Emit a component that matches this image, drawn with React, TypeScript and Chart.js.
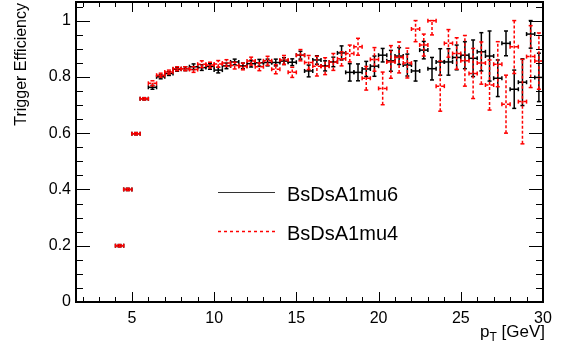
import React, { useEffect, useRef } from "react";
import { Chart, registerables } from "chart.js";
Chart.register(...registerables);

// pT bin centres [GeV], bins of 0.5 GeV
const ptCenters = [4.25, 4.75, 5.25, 5.75, 6.25, 6.75, 7.25, 7.75, 8.25, 8.75, 9.25, 9.75, 10.25, 10.75, 11.25, 11.75, 12.25, 12.75, 13.25, 13.75, 14.25, 14.75, 15.25, 15.75, 16.25, 16.75, 17.25, 17.75, 18.25, 18.75, 19.25, 19.75, 20.25, 20.75, 21.25, 21.75, 22.25, 22.75, 23.25, 23.75, 24.25, 24.75, 25.25, 25.75, 26.25, 26.75, 27.25, 27.75, 28.25, 28.75, 29.25, 29.75];
const binHalfWidth = 0.25;

// BsDsA1mu6 (black, solid)
const effMu6 = [0.200, 0.400, 0.598, 0.722, 0.763, 0.800, 0.812, 0.827, 0.829, 0.836, 0.833, 0.837, 0.824, 0.839, 0.853, 0.839, 0.847, 0.850, 0.851, 0.851, 0.856, 0.852, 0.877, 0.821, 0.860, 0.839, 0.853, 0.885, 0.816, 0.816, 0.828, 0.838, 0.877, 0.857, 0.874, 0.842, 0.821, 0.895, 0.829, 0.853, 0.853, 0.869, 0.877, 0.866, 0.889, 0.874, 0.795, 0.919, 0.756, 0.781, 0.952, 0.798];
const errMu6 = [0.004, 0.004, 0.004, 0.004, 0.007, 0.007, 0.007, 0.007, 0.007, 0.01, 0.01, 0.01, 0.01, 0.01, 0.01, 0.01, 0.012, 0.012, 0.012, 0.012, 0.012, 0.012, 0.014, 0.021, 0.015, 0.018, 0.017, 0.025, 0.031, 0.03, 0.027, 0.036, 0.024, 0.037, 0.03, 0.039, 0.036, 0.031, 0.04, 0.047, 0.047, 0.044, 0.048, 0.065, 0.068, 0.089, 0.065, 0.044, 0.068, 0.083, 0.05, 0.086];

// BsDsA1mu4 (red, dashed)
const effMu4 = [0.200, 0.400, 0.598, 0.722, 0.777, 0.806, 0.817, 0.829, 0.829, 0.826, 0.845, 0.842, 0.846, 0.849, 0.840, 0.837, 0.856, 0.836, 0.857, 0.827, 0.860, 0.816, 0.877, 0.851, 0.838, 0.838, 0.853, 0.864, 0.883, 0.907, 0.795, 0.862, 0.759, 0.853, 0.869, 0.849, 0.970, 0.913, 0.999, 0.767, 0.919, 0.883, 0.857, 0.812, 0.849, 0.771, 0.845, 0.703, 0.907, 0.712, 0.872, 0.856];
const errMu4 = [0.004, 0.004, 0.004, 0.004, 0.009, 0.007, 0.007, 0.007, 0.007, 0.01, 0.012, 0.01, 0.012, 0.012, 0.012, 0.012, 0.014, 0.014, 0.016, 0.016, 0.016, 0.018, 0.02, 0.025, 0.035, 0.03, 0.03, 0.025, 0.03, 0.03, 0.042, 0.042, 0.058, 0.058, 0.055, 0.053, 0.045, 0.039, 0.05, 0.089, 0.049, 0.056, 0.09, 0.089, 0.075, 0.089, 0.08, 0.103, 0.095, 0.15, 0.11, 0.1];

const seriesLabels = ["BsDsA1mu6", "BsDsA1mu4"];
const xMajorTicks = [5, 10, 15, 20, 25, 30];
const xMinorTicks = [2, 3, 4, 6, 7, 8, 9, 11, 12, 13, 14, 16, 17, 18, 19, 21, 22, 23, 24, 26, 27, 28, 29];
const yMajorTicks = [0, 0.2, 0.4, 0.6, 0.8, 1.0];
const yMinorTicks = [0.05, 0.1, 0.15, 0.25, 0.3, 0.35, 0.45, 0.5, 0.55, 0.65, 0.7, 0.75, 0.85, 0.9, 0.95, 1.05];
const xRange = [1.6, 30];
const yRange = [0, 1.066];

const FONT = "'Liberation Sans', Arial, sans-serif";

const errorBarPlugin = {
  id: "errorBars",
  afterDatasetsDraw(chart: any) {
    const { ctx, chartArea } = chart;
    const xs = chart.scales.x;
    const ys = chart.scales.y;
    ctx.save();
    ctx.beginPath();
    ctx.rect(chartArea.left, chartArea.top, chartArea.right - chartArea.left, chartArea.bottom - chartArea.top);
    ctx.clip();
    const seg = (x0: number, y0: number, x1: number, y1: number) => {
      ctx.beginPath();
      ctx.moveTo(x0, y0);
      ctx.lineTo(x1, y1);
      ctx.stroke();
    };
    chart.data.datasets.forEach((ds: any) => {
      ctx.strokeStyle = ds.borderColor;
      ctx.lineWidth = 1.5;
      const dash = ds.dashed ? [3, 2] : [];
      ctx.setLineDash(dash);
      ds.data.forEach((p: any) => {
        const px = xs.getPixelForValue(p.x);
        const py = ys.getPixelForValue(p.y);
        const xl = xs.getPixelForValue(p.x - p.xe);
        const xr = xs.getPixelForValue(p.x + p.xe);
        const yl = ys.getPixelForValue(Math.max(0, p.y - p.ye));
        const yh = ys.getPixelForValue(Math.min(1, p.y + p.ye));
        seg(xl, py, xr, py);
        seg(px, yl, px, yh);
        ctx.setLineDash([]);
        seg(xl, py - 2, xl, py + 2);
        seg(xr, py - 2, xr, py + 2);
        seg(px - 2, yl, px + 2, yl);
        seg(px - 2, yh, px + 2, yh);
        ctx.setLineDash(dash);
      });
    });
    ctx.restore();
  },
};

const framePlugin = {
  id: "rootFrame",
  afterDraw(chart: any) {
    const { ctx, chartArea } = chart;
    const xs = chart.scales.x;
    const ys = chart.scales.y;
    const L = chartArea.left, R = chartArea.right, T = chartArea.top, B = chartArea.bottom;
    ctx.save();
    ctx.strokeStyle = "#000";
    ctx.setLineDash([]);
    ctx.lineWidth = 1;
    const line = (x0: number, y0: number, x1: number, y1: number) => {
      ctx.beginPath();
      ctx.moveTo(x0, y0);
      ctx.lineTo(x1, y1);
      ctx.stroke();
    };
    xMajorTicks.forEach((v) => {
      const x = Math.round(xs.getPixelForValue(v)) + 0.5;
      line(x, B, x, B - 10);
      line(x, T, x, T + 10);
    });
    xMinorTicks.forEach((v) => {
      const x = Math.round(xs.getPixelForValue(v)) + 0.5;
      line(x, B, x, B - 5);
      line(x, T, x, T + 5);
    });
    yMajorTicks.forEach((v) => {
      const y = Math.round(ys.getPixelForValue(v)) + 0.5;
      line(L, y, L + 14, y);
      line(R, y, R - 14, y);
    });
    yMinorTicks.forEach((v) => {
      const y = Math.round(ys.getPixelForValue(v)) + 0.5;
      line(L, y, L + 7, y);
      line(R, y, R - 7, y);
    });
    // frame
    ctx.lineWidth = 2;
    ctx.strokeRect(L, T, R - L, B - T);

    // legend
    ctx.lineWidth = 1;
    ctx.strokeStyle = "#333333";
    line(218, 192.5, 275, 192.5);
    ctx.strokeStyle = "#ff0000";
    ctx.lineWidth = 1.5;
    ctx.setLineDash([3, 3]);
    line(218, 231.5, 275, 231.5);
    ctx.setLineDash([]);
    ctx.fillStyle = "#000";
    ctx.font = `20px ${FONT}`;
    ctx.textAlign = "left";
    ctx.textBaseline = "alphabetic";
    ctx.fillText(seriesLabels[0], 287, 201);
    ctx.fillText(seriesLabels[1], 287, 240);

    // x title: p_T [GeV]
    ctx.font = `17px ${FONT}`;
    const wp = ctx.measureText("p").width;
    const wr = ctx.measureText(" [GeV]").width;
    ctx.font = `12px ${FONT}`;
    const wt = ctx.measureText("T").width;
    const x0 = 545 - (wp + wt + wr);
    ctx.font = `17px ${FONT}`;
    ctx.fillText("p", x0, 337);
    ctx.font = `12px ${FONT}`;
    ctx.fillText("T", x0 + wp, 341);
    ctx.font = `17px ${FONT}`;
    ctx.fillText(" [GeV]", x0 + wp + wt, 337);

    // y title
    ctx.translate(26, 3);
    ctx.rotate(-Math.PI / 2);
    ctx.textAlign = "right";
    ctx.font = `16px ${FONT}`;
    ctx.fillText("Trigger Efficiency", 0, 0);
    ctx.restore();
  },
};

export default function App() {
  const ref = useRef<HTMLCanvasElement | null>(null);
  useEffect(() => {
    if (!ref.current) return;
    const mk = (eff: number[], err: number[]) =>
      ptCenters.map((x, i) => ({ x, y: eff[i], xe: binHalfWidth, ye: err[i] }));
    const chart = new Chart(ref.current, {
      type: "scatter",
      data: {
        datasets: [
          { label: seriesLabels[0], data: mk(effMu6, errMu6), borderColor: "#000000", backgroundColor: "#000000", pointRadius: 0, dashed: false } as any,
          { label: seriesLabels[1], data: mk(effMu4, errMu4), borderColor: "#ff0000", backgroundColor: "#ff0000", pointRadius: 0, dashed: true } as any,
        ],
      },
      options: {
        animation: false,
        responsive: false,
        devicePixelRatio: 1,
        layout: { padding: { top: 2, right: 18, left: 0, bottom: 0 } },
        plugins: { legend: { display: false }, tooltip: { enabled: false } },
        scales: {
          x: {
            type: "linear",
            min: xRange[0],
            max: xRange[1],
            grid: { display: false, drawTicks: false },
            border: { display: false },
            ticks: {
              stepSize: 5,
              includeBounds: false,
              padding: 7,
              color: "#000",
              font: { family: FONT, size: 16 },
              maxRotation: 0,
            },
            afterFit: (s: any) => {
              s.height = 47;
              s.paddingLeft = 0;
              s.paddingRight = 0;
            },
          },
          y: {
            type: "linear",
            min: yRange[0],
            max: yRange[1],
            grid: { display: false, drawTicks: false },
            border: { display: false },
            ticks: {
              stepSize: 0.2,
              includeBounds: false,
              padding: 5,
              color: "#000",
              font: { family: FONT, size: 16 },
              callback: (v: any) => String(Math.round(Number(v) * 10) / 10),
            },
            afterFit: (s: any) => {
              s.width = 76;
              s.paddingTop = 0;
              s.paddingBottom = 0;
            },
          },
        },
      },
      plugins: [errorBarPlugin, framePlugin],
    });
    return () => chart.destroy();
  }, []);
  return (
    <div style={{ position: "fixed", left: 0, top: 0, width: 561, height: 349, background: "#fff" }}>
      <canvas ref={ref} width={561} height={349} style={{ display: "block" }} />
    </div>
  );
}
